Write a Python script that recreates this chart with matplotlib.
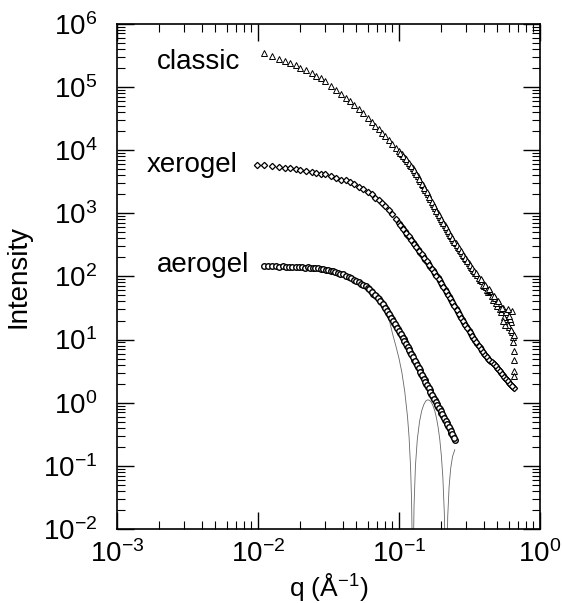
import matplotlib
matplotlib.use("Agg")
import matplotlib.pyplot as plt

plt.rcParams['font.family'] = ['Liberation Sans', 'DejaVu Sans']
plt.rcParams['mathtext.fontset'] = 'custom'
plt.rcParams['mathtext.rm'] = 'Liberation Sans'
plt.rcParams['mathtext.it'] = 'Liberation Sans'
plt.rcParams['mathtext.default'] = 'regular'

# q grid (1/A) shared by classic and xerogel
q_common = [0.011, 0.0125, 0.014, 0.0155, 0.017, 0.0185, 0.020, 0.022, 0.024, 0.026,
            0.028, 0.030, 0.033, 0.036, 0.039, 0.042, 0.045, 0.048, 0.052, 0.056,
            0.060, 0.064, 0.068, 0.072, 0.076, 0.080, 0.085, 0.090, 0.095, 0.100,
            0.105, 0.110, 0.115, 0.120, 0.125, 0.130, 0.136, 0.142, 0.148, 0.154,
            0.160, 0.167, 0.174, 0.181, 0.188, 0.195, 0.203, 0.211, 0.219, 0.227,
            0.235, 0.243, 0.252, 0.261, 0.270, 0.280, 0.290, 0.300, 0.312, 0.324,
            0.336, 0.348, 0.360, 0.374, 0.388, 0.402, 0.416, 0.430, 0.446, 0.462,
            0.478, 0.494, 0.510, 0.528, 0.546, 0.564, 0.582, 0.600, 0.620, 0.640]
# extra, denser q points in the high-q part
q_dense = [0.1025, 0.1075, 0.1125, 0.1175, 0.1225, 0.1275, 0.133, 0.139, 0.145, 0.151,
           0.157, 0.1635, 0.1705, 0.1775, 0.1845, 0.1915, 0.199, 0.207, 0.215, 0.223,
           0.231, 0.239, 0.2475, 0.2565, 0.265, 0.275, 0.285, 0.295, 0.306, 0.318,
           0.330, 0.342, 0.354, 0.367, 0.381, 0.395, 0.409, 0.423, 0.438, 0.454,
           0.470, 0.486, 0.502, 0.519, 0.537, 0.555, 0.573, 0.591, 0.610, 0.630]

# classic
classic_q = q_common + q_dense + [0.605, 0.625, 0.63, 0.645, 0.65, 0.655, 0.655, 0.66,
                                  0.658, 0.59, 0.57, 0.55]
classic_I = [3.4e5, 3.1e5, 2.8e5, 2.57e5, 2.37e5, 2.18e5, 2.02e5, 1.83e5, 1.66e5, 1.50e5,
             1.36e5, 1.23e5, 1.04e5, 8.9e4, 7.7e4, 6.7e4, 5.9e4, 5.2e4, 4.4e4, 3.8e4,
             3.2e4, 2.8e4, 2.44e4, 2.14e4, 1.88e4, 1.67e4, 1.44e4, 1.26e4, 1.09e4, 9.6e3,
             8.5e3, 7.6e3, 6.8e3, 5.9e3, 5.2e3, 4.5e3, 3.85e3, 3.2e3, 2.75e3, 2.34e3,
             2.0e3, 1.67e3, 1.41e3, 1.19e3, 1.01e3, 873, 746, 643, 556, 486,
             429, 379, 332, 294, 263, 233, 207, 185, 163, 143,
             127, 114, 105, 88, 84, 70, 69, 57, 58, 43,
             46, 34, 38, 27, 31, 21, 25, 16, 19, 11,
             9.0e3, 8.05e3, 7.2e3, 6.3e3, 5.55e3, 4.85e3, 4.15e3, 3.5e3, 2.95e3, 2.55e3,
             2.17e3, 1.83e3, 1.53e3, 1.3e3, 1.1e3, 940, 810, 690, 600, 520,
             457, 404, 355, 313, 278, 248, 220, 196, 174, 153,
             135, 120, 112, 93, 90, 74, 74, 60, 62, 48,
             49, 38, 40, 30, 32, 23, 27, 17, 21, 13,
             24, 14, 28, 9, 6.5, 4.8, 12, 3.2, 2.6, 30, 17, 20]

# xerogel
xerogel_q = [0.0099] + q_common + [0.65] + q_dense
xerogel_I = [5.9e3, 5.7e3, 5.5e3, 5.4e3, 5.2e3, 5.1e3, 5.0e3, 4.9e3, 4.7e3, 4.5e3, 4.4e3,
             4.2e3, 4.1e3, 3.9e3, 3.65e3, 3.4e3, 3.3e3, 3.1e3, 2.9e3, 2.64e3, 2.4e3,
             2.18e3, 1.98e3, 1.77e3, 1.6e3, 1.43e3, 1.28e3, 1.11e3, 955, 817, 705,
             608, 526, 456, 400, 352, 311, 271, 236, 208, 184,
             163, 143, 124, 109, 96, 85, 73, 63, 55, 48,
             41.7, 36.6, 31.4, 27.4, 23.9, 20.8, 18.3, 16.1, 13.9, 12.1,
             10.7, 9.5, 8.5, 7.6, 6.7, 6.0, 5.5, 5.0, 4.6, 4.2,
             3.9, 3.6, 3.3, 2.97, 2.7, 2.47, 2.26, 2.08, 1.9, 1.74, 1.7,
             655, 566, 490, 428, 375, 331, 290, 253, 222, 196,
             173, 153, 133, 116, 102, 90, 79, 68, 59, 51.5,
             44.7, 39, 34, 29.3, 25.6, 22.3, 19.5, 17.2, 15, 13,
             11.4, 10.1, 9.0, 8.0, 7.1, 6.35, 5.75, 5.25, 4.8, 4.4,
             4.05, 3.75, 3.45, 3.13, 2.83, 2.58, 2.36, 2.17, 1.99, 1.82]

# aerogel
aerogel_q = [0.011, 0.0118, 0.0126, 0.0134, 0.0142, 0.015, 0.0158, 0.0166, 0.0175, 0.0185,
             0.0195, 0.0205, 0.0215, 0.0225, 0.0235, 0.0245, 0.0255, 0.0265, 0.0278, 0.029,
             0.0302, 0.0315, 0.0328, 0.034, 0.0355, 0.037, 0.0385, 0.04, 0.042, 0.044,
             0.046, 0.048, 0.05, 0.052, 0.054, 0.056, 0.058, 0.06, 0.063, 0.066,
             0.069, 0.072, 0.075, 0.078, 0.081, 0.084, 0.087, 0.09, 0.093, 0.096,
             0.099, 0.102, 0.105, 0.108, 0.111, 0.114, 0.117, 0.12, 0.124, 0.128,
             0.132, 0.136, 0.14, 0.144, 0.148, 0.152, 0.156, 0.16, 0.165, 0.17,
             0.175, 0.18, 0.185, 0.19, 0.195, 0.2, 0.206, 0.212, 0.218, 0.224,
             0.23, 0.236, 0.242, 0.248,
             0.0615, 0.0645, 0.0675, 0.0705, 0.0735, 0.0765, 0.0795, 0.0825, 0.0855, 0.0885,
             0.0915, 0.0945, 0.0975, 0.1005, 0.1035, 0.1065, 0.1095, 0.1125, 0.1155, 0.1185,
             0.122, 0.126, 0.130, 0.134, 0.138, 0.142, 0.146, 0.150, 0.154, 0.158,
             0.1625, 0.1675, 0.1725, 0.1775, 0.1825, 0.1875, 0.1925, 0.1975, 0.203, 0.209,
             0.215, 0.221, 0.227, 0.233, 0.239, 0.245]
aerogel_I = [145, 147, 144, 146, 142, 145, 141, 143, 139, 142,
             139, 141, 137, 139, 136, 138, 135, 134, 132, 130,
             127, 125, 123, 121, 117, 114, 110, 107, 103, 99,
             94, 89, 85, 80, 77, 73, 70, 66, 59, 53,
             48, 43.7, 38.9, 34.1, 29.9, 26.5, 23.4, 20.8, 18.4, 16.3,
             14.5, 12.9, 11.3, 10.1, 9.0, 8.0, 7.1, 6.4, 5.6, 4.8,
             4.2, 3.7, 3.26, 2.88, 2.55, 2.28, 2.01, 1.80, 1.57, 1.38,
             1.23, 1.09, 0.97, 0.865, 0.78, 0.69, 0.62, 0.54, 0.48, 0.43,
             0.38, 0.33, 0.30, 0.26,
             62.5, 56, 50.5, 46, 41, 36.5, 32, 28.2, 25, 22,
             19.6, 17.3, 15.4, 13.7, 12.1, 10.7, 9.5, 8.5, 7.5, 6.75,
             6.0, 5.2, 4.5, 3.95, 3.48, 3.07, 2.71, 2.41, 2.14, 1.9,
             1.68, 1.47, 1.3, 1.16, 1.03, 0.92, 0.82, 0.735, 0.655, 0.58,
             0.51, 0.455, 0.405, 0.355, 0.315, 0.28]

# sphere fit to the aerogel curve
fit_q = [0.011, 0.015, 0.02, 0.025, 0.03, 0.035, 0.04, 0.045, 0.05, 0.055,
         0.06, 0.065, 0.07, 0.075, 0.08, 0.086, 0.09, 0.095, 0.10, 0.105,
         0.11, 0.115, 0.118, 0.121, 0.123, 0.1245, 0.1255, 0.1265, 0.128, 0.131,
         0.135, 0.14, 0.145, 0.15, 0.155, 0.16, 0.165, 0.17, 0.175, 0.18,
         0.185, 0.19, 0.195, 0.20, 0.205, 0.21, 0.213, 0.2158, 0.218, 0.222,
         0.227, 0.233, 0.24, 0.249]
fit_I = [145, 144, 140, 135, 127, 118, 107, 96, 85, 75,
         66, 55, 46, 38, 30, 19, 12.5, 8.0, 5.1, 3.0,
         1.5, 0.61, 0.29, 0.094, 0.028, 0.0043, 1e-6, 0.0037, 0.023, 0.10,
         0.26, 0.50, 0.74, 0.93, 1.06, 1.11, 1.09, 1.01, 0.88, 0.73,
         0.56, 0.40, 0.26, 0.145, 0.065, 0.0175, 0.0039, 1e-6, 0.0022, 0.016,
         0.047, 0.092, 0.14, 0.18]

labels = ['classic', 'xerogel', 'aerogel']
label_pos = [(0.00192, 2.45e5), (0.00163, 5.8e3), (0.00192, 1.51e2)]

fig = plt.figure(figsize=(5.62, 6.03), dpi=100)
ax = fig.add_axes([0.208, 0.1227, 0.7527, 0.838])

ax.plot(fit_q, fit_I, color='0.4', lw=0.6, zorder=1)
ax.plot(classic_q, classic_I, ls='none', marker='^', ms=3.8, mfc='white',
        mec='black', mew=0.7, zorder=2)
ax.plot(xerogel_q, xerogel_I, ls='none', marker='D', ms=3.2, mfc='white',
        mec='black', mew=0.9, zorder=2)
ax.plot(aerogel_q, aerogel_I, ls='none', marker='o', ms=4.0, mfc='white',
        mec='black', mew=1.0, zorder=2)

for lab, (x, y) in zip(labels, label_pos):
    ax.text(x, y, lab, fontsize=20, va='center', ha='left')

ax.set_xscale('log')
ax.set_yscale('log')
ax.set_xlim(1e-3, 1)
ax.set_ylim(1e-2, 1e6)
ax.set_yticks([1e-2, 1e-1, 1, 1e1, 1e2, 1e3, 1e4, 1e5, 1e6])

ax.tick_params(which='both', direction='in', top=True, right=True)
ax.tick_params(which='major', length=12, width=1.0, labelsize=20, pad=8)
ax.tick_params(axis='y', which='major', pad=14)
ax.tick_params(which='minor', length=6, width=0.8)
for s in ax.spines.values():
    s.set_linewidth(1.2)

ax.set_xlabel('q (Å$^{-1}$)', fontsize=19, labelpad=2)
ax.set_ylabel('Intensity', fontsize=20, labelpad=8)

fig.savefig('out.png', dpi=100)
